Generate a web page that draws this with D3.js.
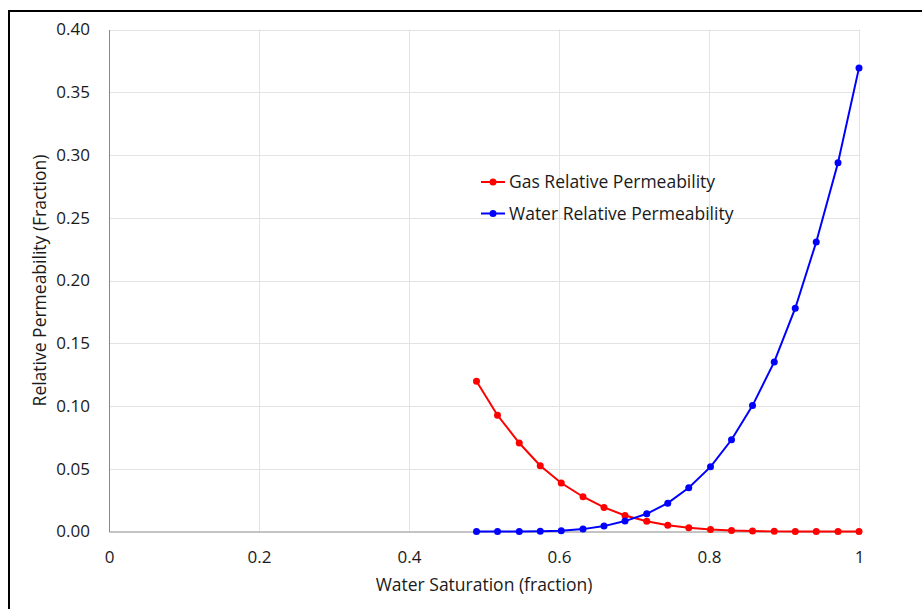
<!DOCTYPE html>
<html lang="en">
<head>
    <meta charset="UTF-8">
    <title>Relative Permeability</title>
    <script src="https://d3js.org/d3.v7.min.js"></script>
    <style>
        body {
            margin: 0;
            padding: 0;
            background-color: #fff;
            font-family: "Open Sans", Arial, sans-serif;
        }
        #chart {
            display: block;
        }
    </style>
</head>
<body>
    <svg id="chart" width="922" height="609"></svg>

    <script>
        // Water saturation values (fraction)
        const saturation = [0.49, 0.518, 0.547, 0.575, 0.603, 0.632, 0.66, 0.688, 0.717, 0.745,
                            0.773, 0.802, 0.83, 0.858, 0.887, 0.915, 0.943, 0.972, 1.0];
        // Gas relative permeability
        const gasKr = [0.1197, 0.0926, 0.0705, 0.0524, 0.0386, 0.0277, 0.0192, 0.0128, 0.0082, 0.0050,
                       0.0030, 0.0015, 0.0007, 0.0003, 0.0001, 0.00005, 0, 0, 0];
        // Water relative permeability
        const waterKr = [0, 0, 0, 0.0002, 0.0006, 0.0019, 0.0043, 0.0083, 0.0141, 0.0226,
                         0.0349, 0.0515, 0.0731, 0.1003, 0.1351, 0.1779, 0.2307, 0.2938, 0.3694];

        const xTicks = [0, 0.2, 0.4, 0.6, 0.8, 1];
        const yTicks = [0, 0.05, 0.1, 0.15, 0.2, 0.25, 0.3, 0.35, 0.4];

        const series = [
            { name: 'Gas Relative Permeability', values: gasKr, color: '#ff0000' },
            { name: 'Water Relative Permeability', values: waterKr, color: '#0000ff' }
        ];

        const svg = d3.select('#chart');
        const plotLeft = 109, plotRight = 859, plotTop = 29.5, plotBottom = 531.5;
        const textColor = '#1a1a1a';

        const x = d3.scaleLinear().domain([0, 1]).range([plotLeft, plotRight]);
        const y = d3.scaleLinear().domain([0, 0.4]).range([plotBottom, plotTop]);

        // Outer frame (runs off the right and bottom edges)
        svg.append('rect')
            .attr('x', 9).attr('y', 11)
            .attr('width', 940).attr('height', 640)
            .attr('fill', 'none')
            .attr('stroke', '#000')
            .attr('stroke-width', 2);

        // Gridlines
        svg.append('g')
            .selectAll('line')
            .data(yTicks.slice(1))
            .enter()
            .append('line')
            .attr('x1', plotLeft).attr('x2', plotRight)
            .attr('y1', d => Math.round(y(d)) + 0.5)
            .attr('y2', d => Math.round(y(d)) + 0.5)
            .attr('stroke', '#e3e3e3');

        svg.append('g')
            .selectAll('line')
            .data(xTicks.slice(1))
            .enter()
            .append('line')
            .attr('x1', d => Math.round(x(d)) + 0.5)
            .attr('x2', d => Math.round(x(d)) + 0.5)
            .attr('y1', plotTop).attr('y2', plotBottom)
            .attr('stroke', '#e3e3e3');

        // Axes
        const xAxis = svg.append('g')
            .attr('transform', `translate(0,${plotBottom})`)
            .call(d3.axisBottom(x).tickValues(xTicks).tickSize(0).tickPadding(19)
                .tickFormat(d => d3.format('')(d)));
        xAxis.select('.domain').attr('stroke', '#888');
        xAxis.selectAll('text')
            .attr('font-family', '"Open Sans", Arial, sans-serif')
            .attr('font-size', 17)
            .attr('fill', textColor);

        const yAxis = svg.append('g')
            .attr('transform', `translate(${plotLeft},0)`)
            .call(d3.axisLeft(y).tickValues(yTicks).tickSize(0).tickPadding(19)
                .tickFormat(d3.format('.2f')));
        yAxis.select('.domain').attr('stroke', '#888');
        yAxis.selectAll('text')
            .attr('font-family', '"Open Sans", Arial, sans-serif')
            .attr('font-size', 17)
            .attr('fill', textColor);

        // Axis titles
        svg.append('text')
            .attr('x', 484)
            .attr('y', 591)
            .attr('text-anchor', 'middle')
            .attr('font-size', 17.5)
            .attr('fill', textColor)
            .text('Water Saturation (fraction)');

        svg.append('text')
            .attr('transform', `translate(46,${(plotTop + plotBottom) / 2}) rotate(-90)`)
            .attr('text-anchor', 'middle')
            .attr('font-size', 17.5)
            .attr('fill', textColor)
            .text('Relative Permeability (Fraction)');

        // Lines and markers
        const line = d3.line()
            .x((d, i) => x(saturation[i]))
            .y(d => y(d));

        series.forEach(s => {
            svg.append('path')
                .attr('d', line(s.values))
                .attr('fill', 'none')
                .attr('stroke', s.color)
                .attr('stroke-width', 2);

            svg.append('g')
                .selectAll('circle')
                .data(s.values)
                .enter()
                .append('circle')
                .attr('cx', (d, i) => x(saturation[i]))
                .attr('cy', d => y(d))
                .attr('r', 3.5)
                .attr('fill', s.color);
        });

        // Legend
        const legend = svg.append('g')
            .selectAll('g')
            .data(series)
            .enter()
            .append('g')
            .attr('transform', (d, i) => `translate(481,${182 + i * 31.5})`);

        legend.append('line')
            .attr('x1', 0).attr('x2', 24)
            .attr('stroke', d => d.color)
            .attr('stroke-width', 2);
        legend.append('circle')
            .attr('cx', 12).attr('r', 3.5)
            .attr('fill', d => d.color);
        legend.append('text')
            .attr('x', 28).attr('y', 6)
            .attr('font-size', 17.5)
            .attr('fill', textColor)
            .text(d => d.name);
    </script>
</body>
</html>
